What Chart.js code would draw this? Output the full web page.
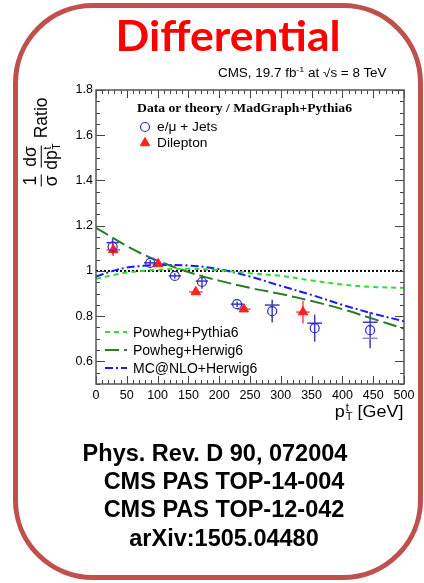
<!DOCTYPE html>
<html>
<head>
<meta charset="utf-8">
<script src="https://cdn.jsdelivr.net/npm/chart.js@4"></script>
<style>
  html, body { margin: 0; padding: 0; background: #fff; }
  #wrap { position: relative; width: 424px; height: 583px; overflow: hidden; font-family: "Liberation Sans", Arial, sans-serif; }
  canvas { position: absolute; left: 0; top: 0; }
  .t { position: absolute; white-space: nowrap; line-height: 1; color: #000; }
  #frame { position: absolute; left: 13px; top: 3px; width: 410px; height: 577px; box-sizing: border-box;
           border: 5px solid #c0504d; border-radius: 80px; pointer-events: none; }
  #title { left: 228px; top: 10px; transform: translateX(-50%) scaleX(1.06); font: bold 42px Lato, sans-serif; color: #ff0000; }
  #cms { right: 37px; top: 66px; font-size: 12px; transform: scaleX(1.12); transform-origin: right center; }
  #cms sup { font-size: 8px; vertical-align: 5px; }
  #legHead { left: 137px; top: 101px; font: bold 12px "Liberation Serif", serif; transform: scaleX(1.14); transform-origin: left center; }
  .leg { left: 157px; font-size: 12.5px; transform: scaleX(1.1); transform-origin: left center; }
  .leg2 { left: 133px; font-size: 14px; }
  #ytitle { left: 41px; top: 142px; transform: translate(-50%, -50%) rotate(-90deg); display: flex; align-items: center;
            font-size: 17.5px; line-height: 1; white-space: nowrap; }
  .frac { display: inline-flex; flex-direction: column; align-items: center; margin-right: 5px; }
  .frac .num { border-bottom: 1px solid #000; padding: 0 1px 1px; }
  .frac .den { padding-top: 1px; }
  .ss { display: inline-flex; flex-direction: column; font-size: 10px; line-height: 0.9; vertical-align: 6px; margin-left: 1px; }
  #xtitle { right: 21px; top: 403px; font-size: 16px; transform: scaleX(1.12); transform-origin: right center; }
  .ref { font: bold 23.5px "Liberation Sans", Arial, sans-serif; transform: translateX(-50%); }
</style>
</head>
<body>
<div id="wrap">
  <canvas id="c" width="424" height="583"></canvas>
  <div id="frame"></div>
  <div class="t" id="title">Differential</div>
  <div class="t" id="cms">CMS, 19.7 fb<sup>-1</sup> at √s = 8 TeV</div>
  <div class="t" id="legHead">Data or theory / MadGraph+Pythia6</div>
  <div class="t leg" style="top:121px">e/μ + Jets</div>
  <div class="t leg" style="top:137px">Dilepton</div>
  <div class="t leg2" style="top:325px">Powheg+Pythia6</div>
  <div class="t leg2" style="top:343px">Powheg+Herwig6</div>
  <div class="t leg2" style="top:361px">MC@NLO+Herwig6</div>
  <div class="t" id="ytitle"><span class="frac"><span class="num">1</span><span class="den">σ</span></span><span class="frac"><span class="num">dσ</span><span class="den">dp<span class="ss"><span>t</span><span>T</span></span></span></span><span>Ratio</span></div>
  <div class="t" id="xtitle">p<span class="ss"><span>t</span><span>T</span></span> [GeV]</div>
  <div class="t ref" style="top:440px; left:215px">Phys. Rev. D 90, 072004</div>
  <div class="t ref" style="top:468px; left:224px">CMS PAS TOP-14-004</div>
  <div class="t ref" style="top:496px; left:224px">CMS PAS TOP-12-042</div>
  <div class="t ref" style="top:525px; left:224px">arXiv:1505.04480</div>
</div>
<script>
// axis ticks
const xTicks = [0, 50, 100, 150, 200, 250, 300, 350, 400, 450, 500];
const yTicks = [0.6, 0.8, 1, 1.2, 1.4, 1.6, 1.8];
const xMinorStep = 10;
const yMinorStep = 0.05;

// e/mu + jets data
const ljetsX = [27, 88, 128, 172, 229, 286, 355, 445];
const ljetsY = [1.107, 1.036, 0.978, 0.951, 0.853, 0.822, 0.747, 0.738];
const ljetsErr = [0.035, 0.012, 0.012, 0.03, 0.012, 0.05, 0.06, 0.08];
const ljetsBarY = [1.125, 1.036, 0.978, 0.955, 0.853, 0.849, 0.769, 0.773];
const ljetsHalfBin = [10, 10, 10, 10, 10, 12, 12, 12];
const extraBarX = [445];
const extraBarY = [0.702];

// dilepton data
const dilepX = [28, 101, 162, 240, 336];
const dilepY = [1.093, 1.031, 0.907, 0.831, 0.818];
const dilepErr = [0.027, 0.01, 0.012, 0.008, 0.05];
const dilepHalfBin = [11, 11, 11, 11, 11];

// theory curves (ratio to MadGraph+Pythia6)
const curveX = [0, 25, 50, 75, 100, 150, 200, 250, 300, 350, 400, 450, 500];
const powhegPythia = [0.965, 0.98, 0.993, 1.0, 1.005, 1.01, 1.003, 0.99, 0.978, 0.958, 0.94, 0.929, 0.925];
const powhegHerwig = [1.19, 1.15, 1.11, 1.075, 1.045, 0.995, 0.957, 0.925, 0.898, 0.867, 0.831, 0.788, 0.745];
const mcatnloHerwig = [0.975, 0.998, 1.015, 1.022, 1.026, 1.024, 1.008, 0.975, 0.934, 0.894, 0.85, 0.811, 0.778];
const unityX = [0, 500];
const unityY = [1, 1];

const pts = (xs, ys) => xs.map((x, i) => ({ x: x, y: ys[i] }));

const errorBars = {
    id: 'errorBars',
    beforeDatasetsDraw(chart) {
        const { ctx, scales: { x, y } } = chart;
        const seg = (x1, y1, x2, y2) => { ctx.beginPath(); ctx.moveTo(x1, y1); ctx.lineTo(x2, y2); ctx.stroke(); };
        ctx.save();
        ctx.lineWidth = 1.5;
        ctx.strokeStyle = '#3c3cb4';
        ljetsX.forEach((v, i) => {
            const px = x.getPixelForValue(v);
            seg(px, y.getPixelForValue(ljetsY[i] + ljetsErr[i]), px, y.getPixelForValue(ljetsY[i] - ljetsErr[i]));
            const py = y.getPixelForValue(ljetsBarY[i]);
            seg(x.getPixelForValue(v - ljetsHalfBin[i]), py, x.getPixelForValue(v + ljetsHalfBin[i]), py);
        });
        ctx.strokeStyle = '#8a8ad0';
        extraBarX.forEach((v, i) => {
            const py = y.getPixelForValue(extraBarY[i]);
            seg(x.getPixelForValue(v - 12), py, x.getPixelForValue(v + 12), py);
        });
        ctx.strokeStyle = '#ff4a4a';
        dilepX.forEach((v, i) => {
            const px = x.getPixelForValue(v);
            seg(px, y.getPixelForValue(dilepY[i] + dilepErr[i]), px, y.getPixelForValue(dilepY[i] - dilepErr[i]));
            const py = y.getPixelForValue(dilepY[i]);
            seg(x.getPixelForValue(v - dilepHalfBin[i]), py, x.getPixelForValue(v + dilepHalfBin[i]), py);
        });
        ctx.restore();
    }
};

// ROOT style frame with inward ticks on all four sides
const frameTicks = {
    id: 'frameTicks',
    afterDatasetsDraw(chart) {
        const { ctx, chartArea: a, scales: { x, y } } = chart;
        const seg = (x1, y1, x2, y2) => { ctx.beginPath(); ctx.moveTo(x1, y1); ctx.lineTo(x2, y2); ctx.stroke(); };
        ctx.save();
        ctx.strokeStyle = '#444';
        ctx.lineWidth = 1;
        for (let v = x.min; v <= x.max + 1e-6; v += xMinorStep) {
            const px = Math.round(x.getPixelForValue(v)) + 0.5;
            const len = xTicks.includes(Math.round(v)) ? 8 : 4;
            seg(px, a.bottom, px, a.bottom - len);
            seg(px, a.top, px, a.top + len);
        }
        for (let v = y.min; v <= y.max + 1e-6; v += yMinorStep) {
            const py = Math.round(y.getPixelForValue(v)) + 0.5;
            const len = yTicks.some(t => Math.abs(t - v) < 1e-6) ? 9 : 4;
            seg(a.left, py, a.left + len, py);
            seg(a.right, py, a.right - len, py);
        }
        ctx.lineWidth = 1.5;
        ctx.strokeStyle = '#555';
        ctx.strokeRect(a.left, a.top, a.right - a.left, a.bottom - a.top);

        // legend symbols
        const ds = chart.data.datasets;
        ctx.fillStyle = ds[1].backgroundColor;
        ctx.strokeStyle = ds[1].borderColor;
        ctx.lineWidth = 1;
        Chart.helpers.drawPoint(ctx, { pointStyle: 'triangle', radius: 5.5, borderWidth: 1 }, 145, 143);
        ctx.fillStyle = 'rgba(0,0,0,0)';
        ctx.strokeStyle = ds[0].borderColor;
        ctx.lineWidth = 1.2;
        Chart.helpers.drawPoint(ctx, { pointStyle: 'circle', radius: 4.5, borderWidth: 1.2 }, 145, 127);
        [2, 3, 4].forEach((k, i) => {
            const d = ds[k];
            ctx.strokeStyle = d.borderColor;
            ctx.lineWidth = d.borderWidth;
            ctx.setLineDash(d.borderDash);
            seg(105, 332 + i * 18, 127, 332 + i * 18);
        });
        ctx.restore();
    }
};

const tickFont = { family: '"Liberation Sans", Arial, sans-serif', size: 12.5 };

new Chart(document.getElementById('c').getContext('2d'), {
    type: 'scatter',
    data: {
        datasets: [
            {
                label: 'e/μ + Jets',
                data: pts(ljetsX, ljetsY),
                pointStyle: 'circle',
                pointRadius: 4.5,
                borderColor: '#2a2acc',
                backgroundColor: 'rgba(0,0,0,0)',
                pointBorderWidth: 1.2
            },
            {
                label: 'Dilepton',
                data: pts(dilepX, dilepY),
                pointStyle: 'triangle',
                pointRadius: 5.5,
                borderColor: '#ff2020',
                backgroundColor: '#ff2020'
            },
            {
                label: 'Powheg+Pythia6',
                data: pts(curveX, powhegPythia),
                showLine: true, pointRadius: 0,
                borderColor: '#2fdc2f', borderWidth: 2, borderDash: [5, 4], tension: 0.35
            },
            {
                label: 'Powheg+Herwig6',
                data: pts(curveX, powhegHerwig),
                showLine: true, pointRadius: 0,
                borderColor: '#2a7a2a', borderWidth: 2, borderDash: [14, 5], tension: 0.35
            },
            {
                label: 'MC@NLO+Herwig6',
                data: pts(curveX, mcatnloHerwig),
                showLine: true, pointRadius: 0,
                borderColor: '#1a1aff', borderWidth: 2, borderDash: [8, 3, 2, 3], tension: 0.35
            },
            {
                label: 'unity',
                data: pts(unityX, unityY),
                showLine: true, pointRadius: 0,
                borderColor: '#000', borderWidth: 2, borderDash: [2, 2]
            }
        ]
    },
    options: {
        responsive: false,
        animation: false,
        layout: { padding: { left: 56, top: 90, right: 20, bottom: 169 } },
        plugins: { legend: { display: false }, tooltip: { enabled: false } },
        scales: {
            x: {
                type: 'linear', min: 0, max: 500,
                afterBuildTicks: s => { s.ticks = xTicks.map(v => ({ value: v })); },
                afterFit: s => { s.height = 30; },
                grid: { display: false, drawTicks: false },
                border: { display: false },
                ticks: { color: '#000', font: tickFont, padding: 4, maxRotation: 0, autoSkip: false }
            },
            y: {
                type: 'linear', min: 0.5, max: 1.8,
                afterBuildTicks: s => { s.ticks = yTicks.map(v => ({ value: v })); },
                afterFit: s => { s.width = 40; },
                grid: { display: false, drawTicks: false },
                border: { display: false },
                ticks: { color: '#000', font: tickFont, padding: 3, callback: v => String(v) }
            }
        }
    },
    plugins: [errorBars, frameTicks]
});
</script>
</body>
</html>
